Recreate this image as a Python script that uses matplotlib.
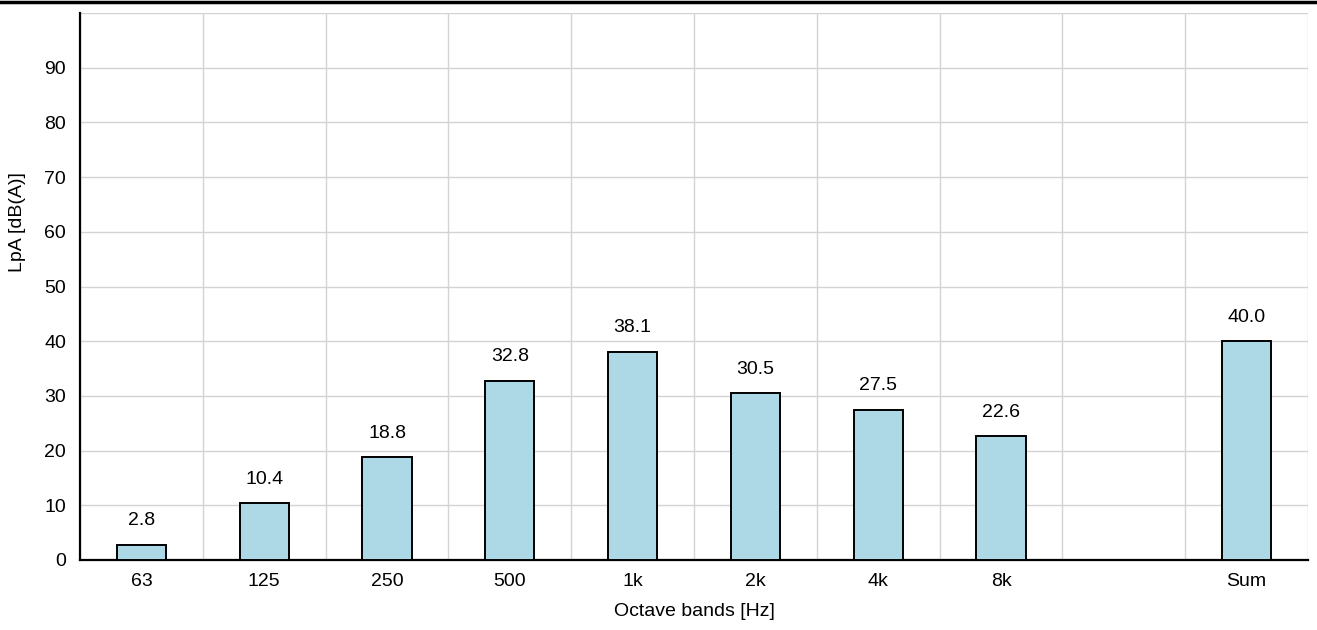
import matplotlib.pyplot as plt
from matplotlib.lines import Line2D
import numpy as np

plt.rcParams['font.family'] = ['Liberation Sans', 'DejaVu Sans']

# Octave band levels
bands = ['63', '125', '250', '500', '1k', '2k', '4k', '8k', '', 'Sum']
levels = [2.8, 10.4, 18.8, 32.8, 38.1, 30.5, 27.5, 22.6, 0.0, 40.0]
value_labels = ['2.8', '10.4', '18.8', '32.8', '38.1', '30.5', '27.5', '22.6', '', '40.0']

fig = plt.figure(figsize=(13.17, 6.3), dpi=100)
ax = fig.add_axes([80 / 1317, 1 - 560 / 630, 1228 / 1317, 547 / 630])

x = np.arange(len(bands))
ax.bar(x, levels, width=0.4, color='lightblue', edgecolor='black', linewidth=1.4,
       zorder=3, clip_on=False)

for xi, v, lab in zip(x, levels, value_labels):
    if lab:
        ax.annotate(lab, (xi, v), xytext=(0, 11), textcoords='offset points',
                    ha='center', va='bottom', fontsize=14)

ax.set_xlim(-0.5, len(bands) - 0.5)
ax.set_ylim(0, 100)
ax.set_xticks(x)
ax.set_xticklabels(bands)
ax.set_yticks(range(0, 100, 10))
ax.set_xticks(np.arange(-0.5, len(bands), 1), minor=True)
ax.set_yticks([100], minor=True)
ax.grid(which='both', color='#d3d3d3', linewidth=1, zorder=0)
ax.xaxis.grid(False, which='major')
ax.tick_params(which='both', length=0, labelsize=14)
ax.tick_params(axis='y', pad=10)
ax.tick_params(axis='x', pad=9)

for s in ['top', 'right']:
    ax.spines[s].set_visible(False)
ax.spines['left'].set_linewidth(1.6)
ax.spines['bottom'].set_linewidth(1.6)

ax.set_xlabel('Octave bands [Hz]', fontsize=14, labelpad=10)
ax.set_ylabel('LpA [dB(A)]', fontsize=14, va='center')
ax.yaxis.set_label_coords(-0.0505, 0.618)

# black rule across the top of the figure
fig.add_artist(Line2D([0, 1], [1 - 1.5 / 630, 1 - 1.5 / 630], color='black', linewidth=2.5,
                      transform=fig.transFigure))

plt.savefig('out.png', dpi=100)
